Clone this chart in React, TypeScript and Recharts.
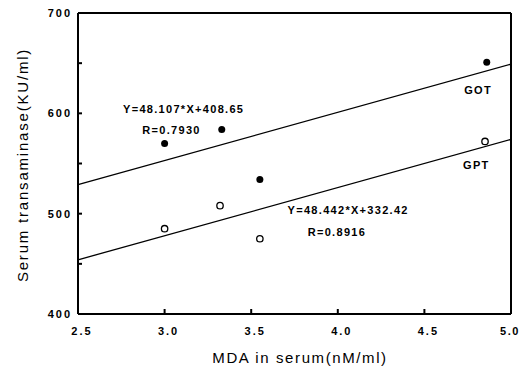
import React from 'react';
import { ScatterChart, Scatter, XAxis, YAxis, ReferenceLine, ReferenceDot } from 'recharts';

// MDA (nM/ml) vs serum transaminase (KU/ml)
const gotPoints = [
  { x: 3.0, y: 570 },
  { x: 3.33, y: 584 },
  { x: 3.55, y: 534 },
  { x: 4.86, y: 651 },
];
const gptPoints = [
  { x: 3.0, y: 485 },
  { x: 3.32, y: 508 },
  { x: 3.55, y: 475 },
  { x: 4.85, y: 572 },
];
// fitted lines, end points
const gotFit = [
  { x: 2.5, y: 529 },
  { x: 5.0, y: 649 },
];
const gptFit = [
  { x: 2.5, y: 454 },
  { x: 5.0, y: 574 },
];

const xTicks = [2.5, 3.0, 3.5, 4.0, 4.5, 5.0];
const yTicks = [400, 450, 500, 550, 600, 650, 700];
const yLabels = [400, 500, 600, 700];

const notes = [
  { x: 3.11, y: 604, text: 'Y=48.107*X+408.65' },
  { x: 3.04, y: 583, text: 'R=0.7930' },
  { x: 4.81, y: 623, text: 'GOT' },
  { x: 4.80, y: 549, text: 'GPT' },
  { x: 4.06, y: 504, text: 'Y=48.442*X+332.42' },
  { x: 3.995, y: 482, text: 'R=0.8916' },
];

const font = '"Liberation Sans", Arial, sans-serif';

const YTick = (props: any) => {
  const { x, y, payload } = props;
  const v = payload.value;
  return (
    <g>
      {v !== 400 && v !== 700 && <line x1={x} x2={x + 4} y1={y} y2={y} stroke="#000" strokeWidth={2} />}
      {yLabels.includes(v) && (
        <text x={x - 6} y={y + 4} textAnchor="end" fontSize={11} fontWeight="bold" letterSpacing={2} fontFamily={font} fill="#000">
          {v}
        </text>
      )}
    </g>
  );
};

const XTick = (props: any) => {
  const { x, y, payload } = props;
  const v = payload.value;
  const last = v === 5.0;
  return (
    <g>
      {v !== 2.5 && !last && <line x1={x} x2={x} y1={y} y2={y - 5} stroke="#000" strokeWidth={2} />}
      <text x={last ? x - 1 : x + 4} y={y + 21} textAnchor="middle" fontSize={11} fontWeight="bold" letterSpacing={last ? 1.5 : 2} fontFamily={font} fill="#000">
        {v.toFixed(1)}
      </text>
    </g>
  );
};

const Note = (props: any) => {
  const { viewBox, value } = props;
  const cx = viewBox.x + viewBox.width / 2;
  const cy = viewBox.y + viewBox.height / 2;
  return (
    <text x={cx} y={cy + 4} textAnchor="middle" fontSize={11} fontWeight="bold" letterSpacing={1.3} fontFamily={font} fill="#000">
      {value}
    </text>
  );
};

const Nothing = () => null;

export default function App() {
  return (
    <div style={{ position: 'absolute', left: 0, top: 0, width: 524, height: 380, background: '#fff' }}>
      <ScatterChart width={524} height={380} margin={{ top: 13, right: 13, bottom: 0, left: 0 }}>
        <XAxis
          type="number"
          dataKey="x"
          domain={[2.5, 5.0]}
          ticks={xTicks}
          height={66}
          tickSize={0}
          tickMargin={0}
          tickLine={false}
          tick={<XTick />}
          stroke="#000"
          strokeWidth={2}
          interval={0}
        />
        <YAxis
          type="number"
          dataKey="y"
          domain={[400, 700]}
          ticks={yTicks}
          width={78}
          tickSize={0}
          tickMargin={0}
          tickLine={false}
          tick={<YTick />}
          stroke="#000"
          strokeWidth={2}
          interval={0}
        />
        <ReferenceLine y={700} stroke="#000" strokeWidth={2} />
        <ReferenceLine x={5.0} stroke="#000" strokeWidth={2} />
        <Scatter data={gotFit} line={{ stroke: '#000', strokeWidth: 1.3 }} shape={<Nothing />} isAnimationActive={false} />
        <Scatter data={gptFit} line={{ stroke: '#000', strokeWidth: 1.3 }} shape={<Nothing />} isAnimationActive={false} />
        <Scatter
          data={gotPoints}
          isAnimationActive={false}
          shape={(p: any) => <circle cx={p.cx} cy={p.cy} r={3.5} fill="#000" />}
        />
        <Scatter
          data={gptPoints}
          isAnimationActive={false}
          shape={(p: any) => <circle cx={p.cx} cy={p.cy} r={3.2} fill="#fff" stroke="#000" strokeWidth={1.3} />}
        />
        {notes.map((n) => (
          <ReferenceDot key={n.text} x={n.x} y={n.y} r={1} fill="none" stroke="none" label={<Note value={n.text} />} />
        ))}
      </ScatterChart>
      <div
        style={{
          position: 'absolute', left: 0, top: 349, width: 600, textAlign: 'center',
          fontFamily: font, fontSize: 15, letterSpacing: 1.6,
        }}
      >
        MDA in serum(nM/ml)
      </div>
      <div
        style={{
          position: 'absolute', left: 22, top: 165, transform: 'translate(-50%, -50%) rotate(-90deg)',
          whiteSpace: 'nowrap', fontFamily: font, fontSize: 15, letterSpacing: 1.8,
        }}
      >
        Serum transaminase(KU/ml)
      </div>
    </div>
  );
}
